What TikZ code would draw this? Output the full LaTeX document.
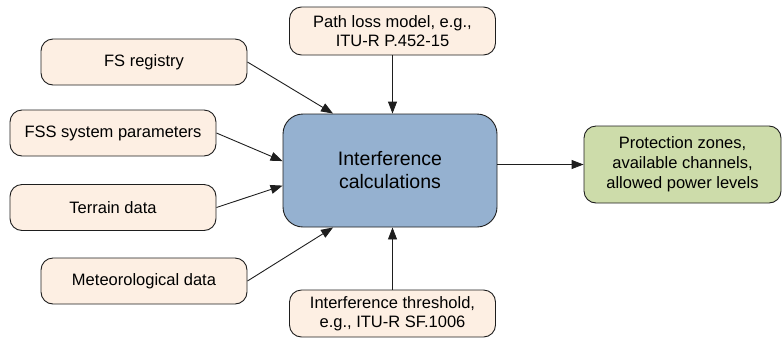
\documentclass[tikz,border=0pt]{standalone}
\usepackage{fontspec}
\setmainfont{Liberation Sans}
\usetikzlibrary{arrows.meta,positioning}
\definecolor{inputfill}{RGB}{253,239,227}
\definecolor{calcfill}{RGB}{149,177,208}
\definecolor{outputfill}{RGB}{205,220,170}
\definecolor{edge}{RGB}{30,30,30}

\begin{document}
\begin{tikzpicture}[x=1pt,y=-1pt,
    inbox/.style={draw=edge,line width=0.9pt,fill=inputfill,rounded corners=12pt,
        minimum width=206pt,minimum height=46pt,inner sep=0pt,align=center,
        font=\fontsize{16.5}{19.5}\selectfont},
    calcbox/.style={draw=edge,line width=0.9pt,fill=calcfill,rounded corners=20pt,
        minimum width=214pt,minimum height=113pt,inner sep=0pt,align=center,
        font=\fontsize{19.5}{23}\selectfont},
    outbox/.style={draw=edge,line width=0.9pt,fill=outputfill,rounded corners=12pt,
        minimum width=197pt,minimum height=77pt,inner sep=0pt,align=center,
        font=\fontsize{16.5}{20}\selectfont},
    feed/.style={edge,line width=0.9pt,-{Triangle[length=12pt,width=9pt]}}]

\useasboundingbox (0,0) rectangle (783,338);

% Central block
\node[calcbox] (calc) at (390,170.5) {Interference\\calculations};

% Input boxes
\node[inbox] (fsreg) at (144,62) {FS registry};
\node[inbox] (fsspar) at (113,133) {FSS system parameters};
\node[inbox] (terrain) at (113,207.5) {Terrain data};
\node[inbox] (meteo) at (144,281) {Meteorological data};
\node[inbox,minimum height=48pt] (pathloss) at (392.5,31) {Path loss model, e.g.,\\ITU-R P.452-15};
\node[inbox,minimum height=47pt] (thresh) at (392.5,313.5) {Interference threshold,\\e.g., ITU-R SF.1006};

% Output box
\node[outbox] (result) at (682.5,164.5) {Protection zones,\\available channels,\\allowed power levels};

% Connectors
\draw[feed] (fsreg.east) -- (calc.135);
\draw[feed] (fsspar.east) -- (calc.175);
\draw[feed] (terrain.east) -- (calc.188);
\draw[feed] (meteo.east) -- (calc.225);
\draw[feed] (pathloss.south) -- (pathloss.south |- calc.north);
\draw[feed] (thresh.north) -- (thresh.north |- calc.south);
\draw[feed] (calc.east |- result.west) -- (result.west);

\end{tikzpicture}
\end{document}
